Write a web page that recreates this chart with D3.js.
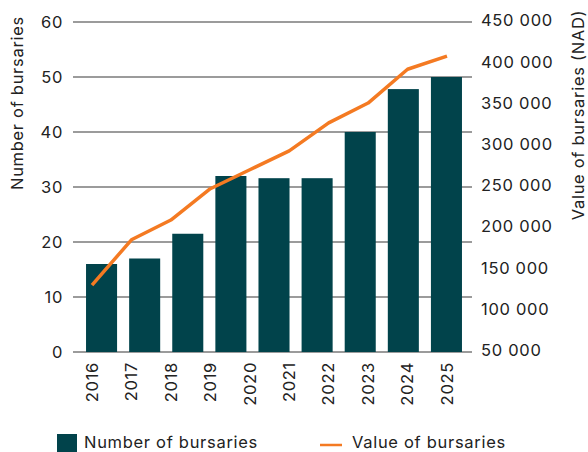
<!DOCTYPE html>
<html>
<head>
<meta charset="utf-8">
<script src="https://cdn.jsdelivr.net/npm/d3@7"></script>
<style>
  body { margin: 0; background: #fff; }
  text { font-family: Inter, "Noto Sans", sans-serif; fill: #222; letter-spacing: 0.7px; }
</style>
</head>
<body>
<div id="chart"></div>
<script>
// data
var years = ["2016", "2017", "2018", "2019", "2020", "2021", "2022", "2023", "2024", "2025"];
var barYears = ["2016", "2017", "2018", "2020", "2021", "2022", "2023", "2024", "2025"];
var barValues = [16, 17, 21.5, 32, 31.6, 31.6, 40, 47.8, 50];
var lineValues = [130000, 185000, 209000, 247000, 270000, 293000, 327000, 351000, 392000, 408000];
var leftTicks = [0, 10, 20, 30, 40, 50, 60];
var rightTicks = [50000, 100000, 150000, 200000, 250000, 300000, 350000, 400000, 450000];

var w = 588, h = 452;
var teal = "#01434b", orange = "#f47a22";
var fs = "16.5px";

var svg = d3.select("#chart").append("svg").attr("width", w).attr("height", h);

var yLeft = d3.scaleLinear().domain([0, 60]).range([352, 22]);
var yRight = d3.scaleLinear().domain([50000, 450000]).range([351, 21.5]);
var xBar = d3.scaleBand().domain(barYears).range([80, 468]).paddingInner(0.28).paddingOuter(0.14);
var xPt = d3.scalePoint().domain(years).range([92, 447]);

// gridlines
svg.append("g").selectAll("line")
  .data(leftTicks)
  .enter().append("line")
  .attr("x1", 73).attr("x2", 472)
  .attr("y1", (d) => yLeft(d)).attr("y2", (d) => yLeft(d))
  .attr("stroke", "#7a7a7a").attr("stroke-width", 1.5);

// left axis labels
svg.append("g").selectAll("text")
  .data(leftTicks)
  .enter().append("text")
  .attr("x", 63).attr("y", (d) => yLeft(d))
  .attr("dy", ".35em").attr("text-anchor", "end")
  .style("font-size", fs)
  .text((d) => d);

// right axis labels (space as thousands separator)
var fmt = d3.formatLocale({ thousands: "\u00a0", grouping: [3], decimal: ".", currency: ["", ""] }).format(",");
svg.append("g").selectAll("text")
  .data(rightTicks)
  .enter().append("text")
  .attr("x", 481).attr("y", (d) => yRight(d))
  .attr("dy", ".3em")
  .style("font-size", fs)
  .text((d) => fmt(d));

// bars
svg.append("g").selectAll("rect")
  .data(barValues)
  .enter().append("rect")
  .attr("x", (d, i) => xBar(barYears[i]))
  .attr("width", xBar.bandwidth())
  .attr("y", (d) => yLeft(d))
  .attr("height", (d) => yLeft(0) - yLeft(d))
  .attr("fill", teal);

// value line
var line = d3.line()
  .x((d, i) => xPt(years[i]))
  .y((d) => yRight(d));
svg.append("path")
  .datum(lineValues)
  .attr("d", line)
  .attr("fill", "none")
  .attr("stroke", orange)
  .attr("stroke-width", 3.5)
  .attr("stroke-linejoin", "round");

// year labels
svg.append("g").selectAll("text")
  .data(years)
  .enter().append("text")
  .attr("transform", (d) => "translate(" + xPt(d) + ",362) rotate(-90)")
  .attr("dy", ".35em").attr("text-anchor", "end")
  .style("font-size", fs)
  .text((d) => d);

// axis titles
svg.append("text")
  .attr("transform", "translate(17,103) rotate(-90)")
  .attr("dy", ".35em").attr("text-anchor", "middle")
  .style("font-size", fs)
  .text("Number of bursaries");
svg.append("text")
  .attr("transform", "translate(578,115) rotate(-90)")
  .attr("dy", ".35em").attr("text-anchor", "middle")
  .style("font-size", fs)
  .text("Value of bursaries (NAD)");

// legend
var lg = svg.append("g");
lg.append("rect").attr("x", 57).attr("y", 434).attr("width", 20).attr("height", 18).attr("fill", teal);
lg.append("text").attr("x", 84).attr("y", 442).attr("dy", ".35em").style("font-size", fs).text("Number of bursaries");
lg.append("line").attr("x1", 320).attr("x2", 342).attr("y1", 445).attr("y2", 445)
  .attr("stroke", orange).attr("stroke-width", 2.5);
lg.append("text").attr("x", 352).attr("y", 442).attr("dy", ".35em").style("font-size", fs).text("Value of bursaries");
</script>
</body>
</html>
